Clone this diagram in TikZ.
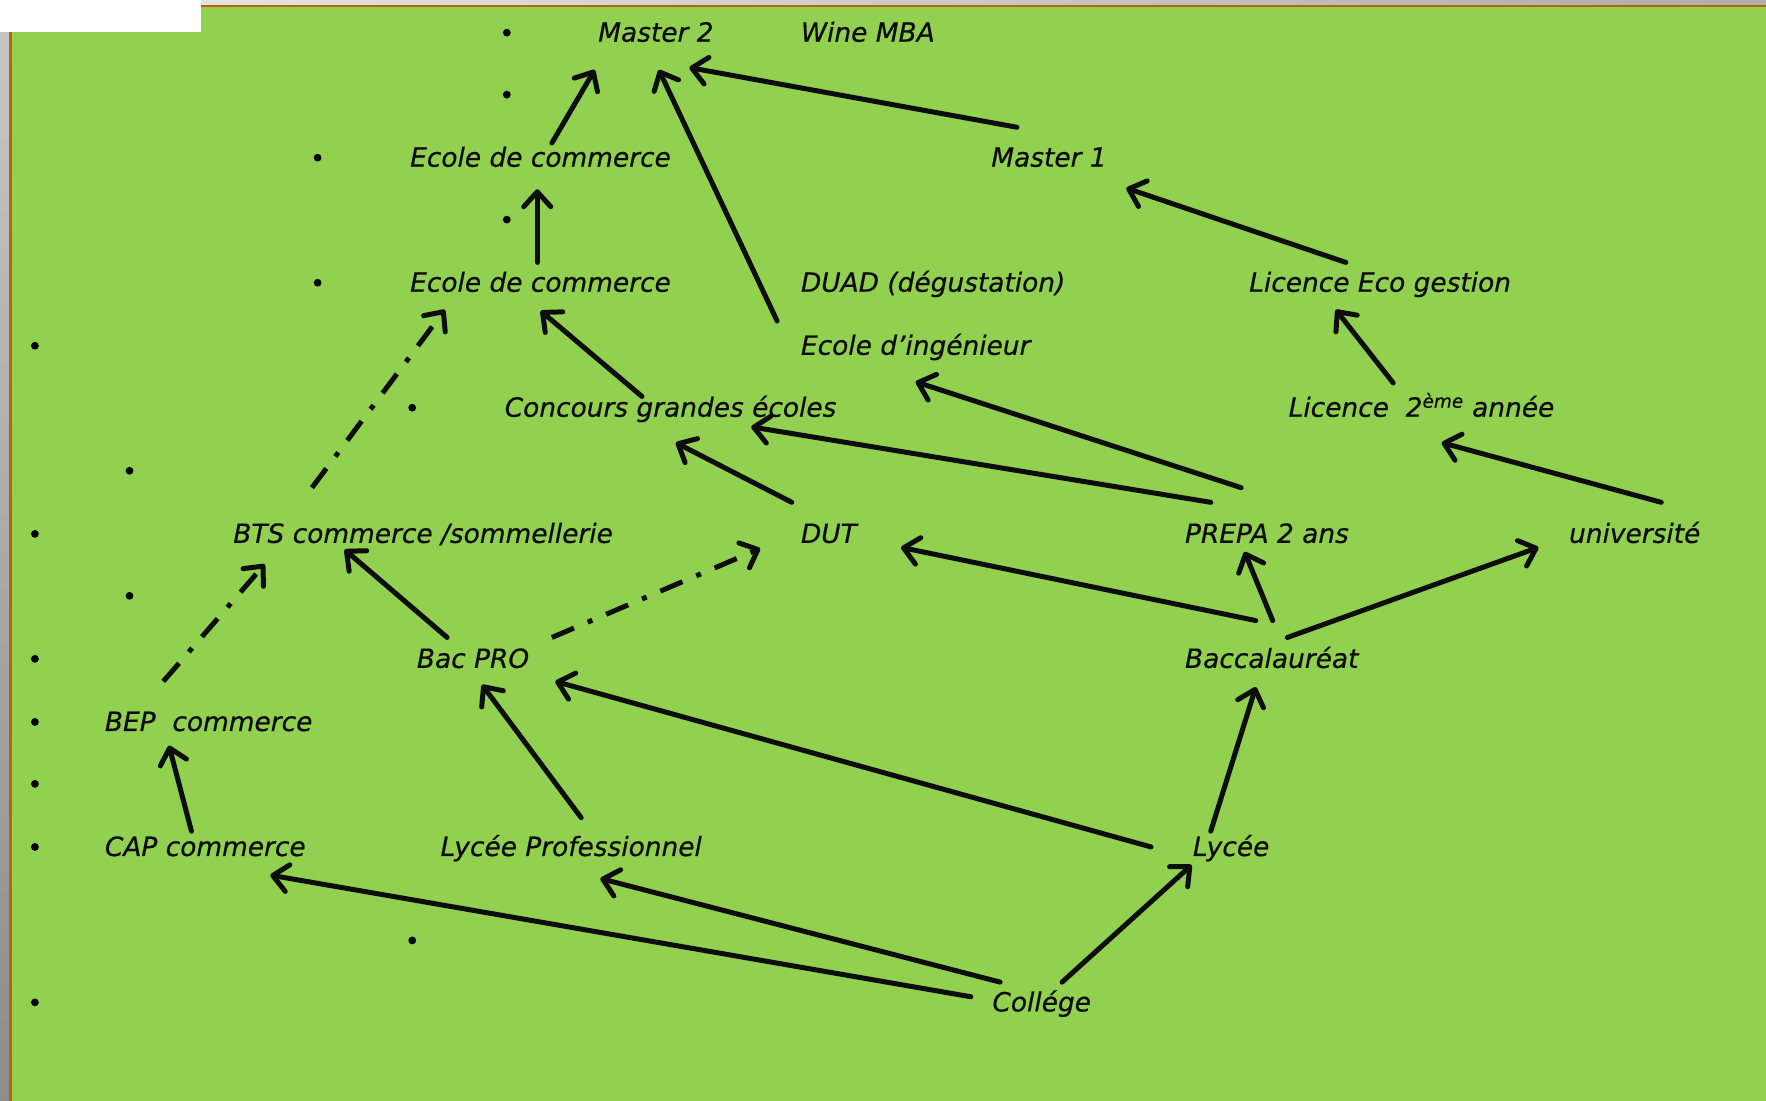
\documentclass[tikz,border=0pt]{standalone}
\usepackage{fontspec}
\setmainfont{DejaVu Sans}
\newfontfamily\lblfam{DejaVu Sans}[FakeBold=0.6]
\usetikzlibrary{arrows.meta}
\definecolor{bggreen}{HTML}{92D050}
\definecolor{frameorange}{HTML}{C0600F}
\newcommand\lblfont{\lblfam\fontsize{26.4}{30}\selectfont\itshape}
\begin{document}
\begin{tikzpicture}[x=1.1263pt,y=-1.1263pt,
  lbl/.style={anchor=base west, inner sep=0pt, font=\lblfont, text=black!95},
  arr/.style={line width=5pt, draw=black!95, -{Straight Barb[length=15pt,width=27pt,round]}, line cap=round},
  dasharr/.style={arr, line cap=butt, dash pattern=on 24pt off 15pt on 5pt off 15pt},
  bul/.style={fill=black}]
\useasboundingbox (0,0) rectangle (1568,977.5);
% background and frame
\fill[bggreen] (0,0) rectangle (1568,977.5);
\shade[top color=black!22, bottom color=black!45] (0,0) rectangle (8,977.5);
\shade[left color=black!8, right color=black!32] (0,0) rectangle (1568,4.2);
\fill[frameorange] (8,4.2) rectangle (10.6,977.5);
\fill[frameorange] (8,4.2) rectangle (1568,6.3);
\fill[white] (0,0) rectangle (178.5,28.2);
% bullets
\foreach \x/\y in {450/29,450/84,282/140,450/195,282/251,31/307,366/362,115/418,31/474,115/529,31/585,31/641,31/696,31/752,366/835,31/890}
  \fill[bul] (\x,\y) circle[radius=3.9pt];
% labels
\node[lbl] (m2) at (531,37) {Master 2};
\node[lbl] (wine) at (711,37) {Wine MBA};
\node[lbl] (ecA) at (364,148) {Ecole de commerce};
\node[lbl] (m1) at (880,148) {Master 1};
\node[lbl] (ecB) at (364,259) {Ecole de commerce};
\node[lbl] (duad) at (711,259) {DUAD (dégustation)};
\node[lbl] (leco) at (1109,259) {Licence Eco gestion};
\node[lbl] (ing) at (711,315) {Ecole d’ingénieur};
\node[lbl] (conc) at (448,370) {Concours grandes écoles};
\node[lbl] (lic2) at (1144,370) {Licence\ \ 2\textsuperscript{ème} année};
\node[lbl] (bts) at (207,482) {BTS commerce /sommellerie};
\node[lbl] (dut) at (711,482) {DUT};
\node[lbl] (prepa) at (1052,482) {PREPA 2 ans};
\node[lbl] (univ) at (1393,482) {université};
\node[lbl] (bacpro) at (370,593) {Bac PRO};
\node[lbl] (bac) at (1052,593) {Baccalauréat};
\node[lbl] (bep) at (93,649) {BEP\ \ commerce};
\node[lbl] (cap) at (93,760) {CAP commerce};
\node[lbl] (lpro) at (391,760) {Lycée Professionnel};
\node[lbl] (lycee) at (1059,760) {Lycée};
\node[lbl] (college) at (881,898) {Collége};
% connector end points
\foreach \n/\a/\b/\c/\d in {
  1/490/127/528/62, 2/690/285/585/62, 3/903/113/612/60, 4/1195/233/1000/167,
  5/477/233/477/168, 6/570/352/480/276, 7/277/433/395/275, 8/1237/340/1186/275,
  9/1475/446/1280/393, 10/703/446/600/393, 11/1075/446/667/379, 12/1102/433/813/339,
  13/397/566/306/488, 14/490/566/675/487, 15/145/605/235/501, 16/1115/551/800/486,
  17/1130/551/1105/490, 18/1143/566/1366/486, 19/170/738/150/662, 20/516/726/428/608,
  21/1022/752/493/605, 22/1075/738/1115/610, 23/862/885/240/777, 24/888/872/533/780,
  25/943/872/1058/768}
  {\coordinate (s\n) at (\a,\b); \coordinate (e\n) at (\c,\d);}
% connectors
\draw[arr] (s1) -- (e1);
\draw[arr] (s2) -- (e2);
\draw[arr] (s3) -- (e3);
\draw[arr] (s4) -- (e4);
\draw[arr] (s5) -- (e5);
\draw[arr] (s6) -- (e6);
\draw[dasharr] (s7) -- (e7);
\draw[arr] (s8) -- (e8);
\draw[arr] (s9) -- (e9);
\draw[arr] (s10) -- (e10);
\draw[arr] (s11) -- (e11);
\draw[arr] (s12) -- (e12);
\draw[arr] (s13) -- (e13);
\draw[dasharr] (s14) -- (e14);
\draw[dasharr] (s15) -- (e15);
\draw[arr] (s16) -- (e16);
\draw[arr] (s17) -- (e17);
\draw[arr] (s18) -- (e18);
\draw[arr] (s19) -- (e19);
\draw[arr] (s20) -- (e20);
\draw[arr] (s21) -- (e21);
\draw[arr] (s22) -- (e22);
\draw[arr] (s23) -- (e23);
\draw[arr] (s24) -- (e24);
\draw[arr] (s25) -- (e25);
\end{tikzpicture}
\end{document}
